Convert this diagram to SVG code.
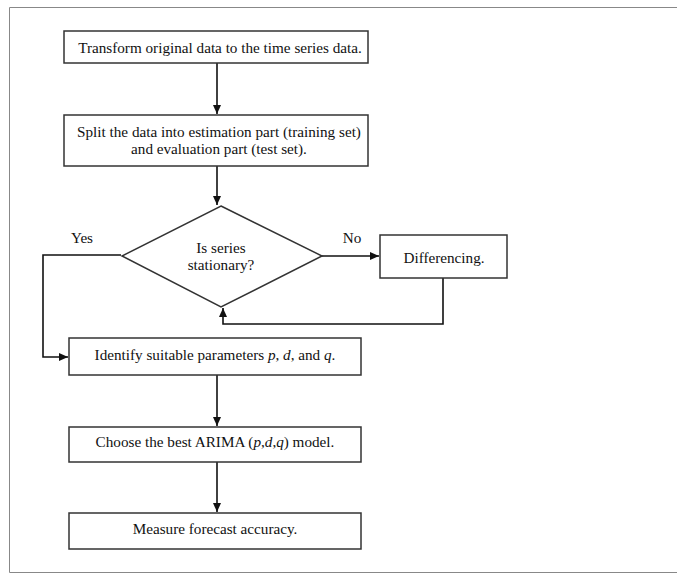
<svg xmlns="http://www.w3.org/2000/svg" width="677" height="574" viewBox="0 0 677 574">
<style>
.box{fill:#fff;stroke:#333;stroke-width:1.5}
.t{font-family:"Liberation Serif","Times New Roman",serif;font-size:15.2px;fill:#111;text-anchor:middle}
.c{fill:none;stroke:#111;stroke-width:1.6}
</style>
<defs>
<marker id="ah" markerWidth="10" markerHeight="10" refX="9" refY="5" orient="auto" markerUnits="userSpaceOnUse">
<path d="M0,1 L9,5 L0,9 Z" fill="#111"/>
</marker>
</defs>
<rect x="0" y="0" width="677" height="574" fill="#fff"/>
<path d="M677,7.5 H9.5 V572.5 H677" fill="none" stroke="#888" stroke-width="1"/>
<g id="connectors">
<path class="c" d="M217,63 V114" marker-end="url(#ah)"/>
<path class="c" d="M217,166 V205" marker-end="url(#ah)"/>
<path class="c" d="M322,256 H379" marker-end="url(#ah)"/>
<path class="c" d="M443,278 V324 H223 V308" marker-end="url(#ah)"/>
<path class="c" d="M121,255 H43 V357 H68" marker-end="url(#ah)"/>
<path class="c" d="M217,375 V426" marker-end="url(#ah)"/>
<path class="c" d="M217,462 V512" marker-end="url(#ah)"/>
<text class="t" x="82" y="243">Yes</text>
<text class="t" x="352" y="243">No</text>
</g>
<g id="transform">
<rect class="box" x="64" y="31" width="304" height="32"/>
<text class="t" x="220" y="53">Transform original data to the time series data.</text>
</g>
<g id="split">
<rect class="box" x="64" y="115" width="304" height="51"/>
<text class="t" x="219" y="137">Split the data into estimation part (training set)</text>
<text class="t" x="219" y="154">and evaluation part (test set).</text>
</g>
<g id="decision">
<polygon class="box" points="221,206 322,256 221,307 122,256"/>
<text class="t" x="221" y="253">Is series</text>
<text class="t" x="221" y="270">stationary?</text>
</g>
<g id="differencing">
<rect class="box" x="380" y="235" width="127" height="43"/>
<text class="t" x="444" y="263">Differencing.</text>
</g>
<g id="identify">
<rect class="box" x="69" y="338" width="292" height="37"/>
<text class="t" x="215" y="360">Identify suitable parameters <tspan font-style="italic">p</tspan>, <tspan font-style="italic">d</tspan>, and <tspan font-style="italic">q</tspan>.</text>
</g>
<g id="choose">
<rect class="box" x="69" y="427" width="292" height="35"/>
<text class="t" x="215" y="447">Choose the best ARIMA (<tspan font-style="italic">p</tspan>,<tspan font-style="italic">d</tspan>,<tspan font-style="italic">q</tspan>) model.</text>
</g>
<g id="measure">
<rect class="box" x="69" y="513" width="292" height="36"/>
<text class="t" x="215" y="534">Measure forecast accuracy.</text>
</g>
</svg>
